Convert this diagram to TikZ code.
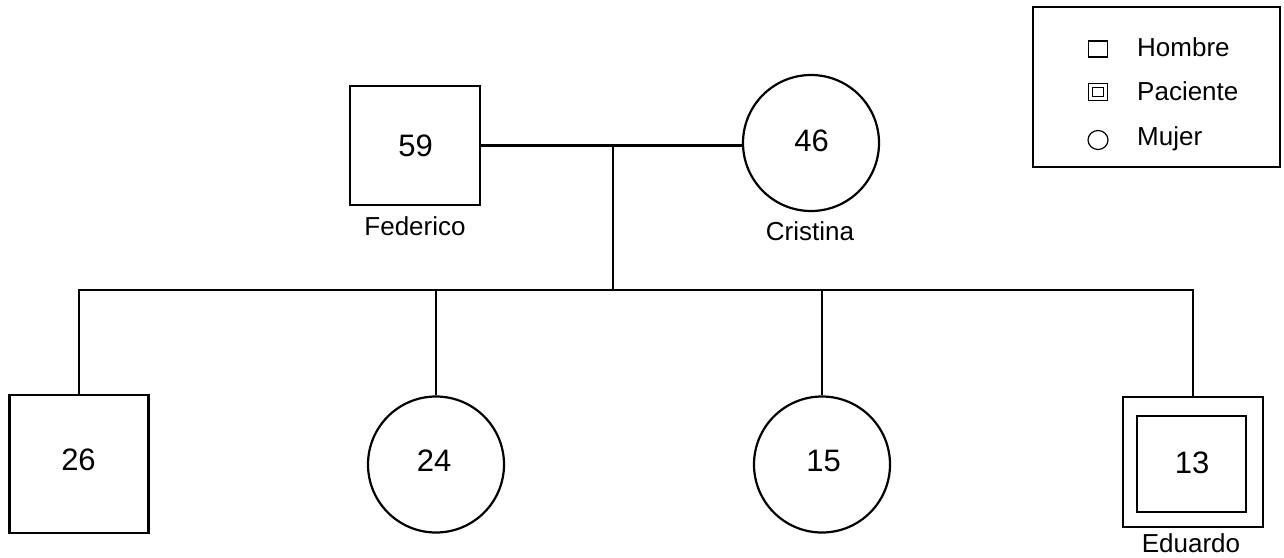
\documentclass[tikz,border=0pt]{standalone}
\usepackage{fontspec}
\setmainfont{Liberation Sans}
\usetikzlibrary{shapes.geometric}
\begin{document}
\begin{tikzpicture}[x=1pt,y=-1pt,
  every node/.style={font=\fontsize{26}{30}\selectfont, inner sep=0pt},
  ln/.style={line width=2.2pt},
  male/.style={draw, line width=2.2pt, rectangle, minimum width=#1},
  female/.style={draw, line width=2.2pt, circle, minimum size=136pt},
  age/.style={font=\fontsize{31}{36}\selectfont},
  lbl/.style={anchor=center},
  keytext/.style={anchor=west},
  keysym/.style={draw, line width=1.2pt}]
\useasboundingbox (0,0) rectangle (1284,557);
\fill[white] (0,0) rectangle (1284,557);

% parents
\node[male=130pt, minimum height=119pt] (fed) at (415,145.5) {};
\node[age] (fedage) at (415.5,145.5) {59};
\node[lbl] (fedname) at (415,226) {Federico};
\node[female] (cri) at (811,143) {};
\node[age] (criage) at (811.5,141) {46};
\node[lbl] (criname) at (810,231) {Cristina};

% children
\node[male=139pt, minimum height=138pt] (s26) at (79,464) {};
\node[age] (s26age) at (78.5,460) {26};
\node[female] (d24) at (436,464.5) {};
\node[age] (d24age) at (434,461) {24};
\node[female] (d15) at (822,464.5) {};
\node[age] (d15age) at (823.5,461) {15};
\node[draw, line width=2.2pt, minimum width=140pt, minimum height=130pt] (patout) at (1193,462) {};
\node[draw, line width=2.2pt, minimum width=109pt, minimum height=96pt] (pat) at (1191.5,464) {};
\node[age] (patage) at (1192,462.5) {13};
\node[lbl] (patname) at (1191,543) {Eduardo};

% connectors
\coordinate (m) at (613,145);
\coordinate (mb) at (613,290);
\coordinate (b1) at (79,290);
\coordinate (b2) at (436,290);
\coordinate (b3) at (822,290);
\coordinate (b4) at (1193,290);
\draw[ln] (fed.east) -- (fed.east -| cri.west);
\draw[ln] (m) -- (mb);
\draw[ln, line cap=rect] (b1) -- (b4);
\draw[ln] (b1) -- (s26.north);
\draw[ln] (b2) -- (d24.north);
\draw[ln] (b3) -- (d15.north);
\draw[ln] (b4) -- (patout.north);

% key
\node[draw, line width=1.2pt, minimum width=247pt, minimum height=160pt] (key) at (1156.5,87) {};
\node[keysym, minimum width=19pt, minimum height=16pt] (kh) at (1098,49) {};
\node[keytext] (th) at (1137,47) {Hombre};
\node[keysym, minimum width=19pt, minimum height=17pt] (kp) at (1098,92) {};
\node[keysym, line width=1pt, minimum width=11pt, minimum height=9pt] (kpi) at (1098,92) {};
\node[keytext] (tp) at (1137,91) {Paciente};
\node[keysym, ellipse, minimum width=20pt, minimum height=19pt] (km) at (1098,140) {};
\node[keytext] (tm) at (1137,139) {Mujer};
\end{tikzpicture}
\end{document}
